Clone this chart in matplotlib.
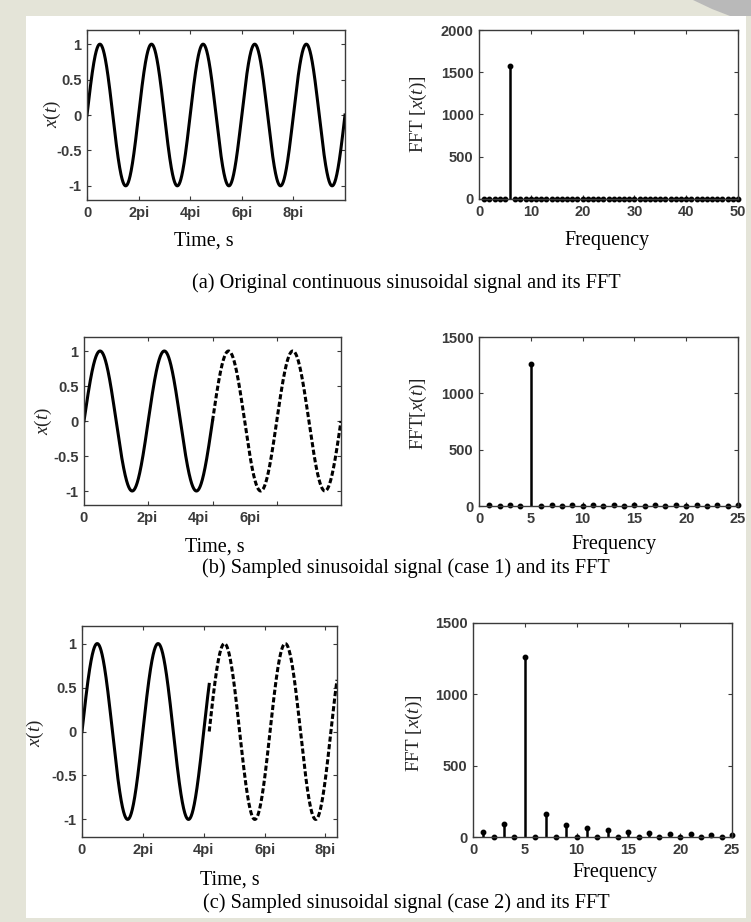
import numpy as np
import matplotlib
matplotlib.use('Agg')
import matplotlib.pyplot as plt
from matplotlib.patches import Rectangle, Polygon

plt.rcParams['mathtext.fontset'] = 'custom'
plt.rcParams['mathtext.rm'] = 'Liberation Serif'
plt.rcParams['mathtext.it'] = 'Liberation Serif:italic'

# ─── Data ────────────────────────────────────────────────────────────────────
PI = np.pi
# time signals: x(t) = sin(t) (solid), continued as dashed part
t_end_a = 10 * PI           # (a) original continuous signal
t_end_b = 8 * PI            # (b) sampled, case 1
t_split_b = 4 * PI          # solid -> dashed
t_end_c = 8.38 * PI         # (c) sampled, case 2
t_split_c = 4.18 * PI       # discontinuity where dashed part restarts at 0

ticks_a = [0, 2 * PI, 4 * PI, 6 * PI, 8 * PI]
ticks_b = [2 * PI, 4 * PI, 6 * PI]                 # tick marks
ticklabpos_b = [0, 1.96 * PI, 3.55 * PI, 5.17 * PI]  # where the labels sit
ticks_c = [0, 2 * PI, 4 * PI, 6 * PI, 8 * PI]
pi_labels_a = ['0', '2pi', '4pi', '6pi', '8pi']
pi_labels_b = ['0', '2pi', '4pi', '6pi']
pi_labels_c = ['0', '2pi', '4pi', '6pi', '8pi']
x_ticks = [1, 0.5, 0, -0.5, -1]
x_ticklabels = ['1', '0.5', '0', '-0.5', '-1']

freq_a = list(range(1, 51))
fft_a = [3, 3, 3, 3, 3, 1571, 3, 3, 3, 3,
         3, 3, 3, 3, 3, 3, 3, 3, 3, 3,
         3, 3, 3, 3, 3, 3, 3, 3, 3, 3,
         3, 3, 3, 3, 3, 3, 3, 3, 3, 3,
         3, 3, 3, 3, 3, 3, 3, 3, 3, 3]

freq_b = list(range(1, 26))
fft_b = [5, 1, 5, 1, 1257, 1, 5, 1, 5, 1,
         5, 1, 5, 1, 5, 1, 5, 1, 5, 1,
         5, 1, 5, 1, 5]

freq_c = list(range(1, 26))
fft_c = [37, 3, 89, 3, 1265, 3, 161, 3, 84, 3,
         65, 3, 49, 3, 37, 3, 26, 3, 21, 3,
         21, 3, 14, 3, 14]

captions = ['(a) Original continuous sinusoidal signal and its FFT',
            '(b) Sampled sinusoidal signal (case 1) and its FFT',
            '(c) Sampled sinusoidal signal (case 2) and its FFT']

# ─── Canvas ──────────────────────────────────────────────────────────────────
W, H = 751, 922
fig = plt.figure(figsize=(W / 100, H / 100), dpi=100)
fig.patch.set_facecolor('#E4E4D8')

def box(l, t, r, b):
    return [l / W, 1 - b / H, (r - l) / W, (b - t) / H]

def ftext(x, y, s, **kw):
    fig.text(x / W, 1 - y / H, s, ha='center', va='center', **kw)

fig.patches.append(Rectangle((26 / W, 1 - 918 / H), 720 / W, 902 / H,
                             transform=fig.transFigure, facecolor='white',
                             edgecolor='none', zorder=-10))
fig.patches.append(Polygon([(693 / W, 1), (1, 1), (1, 1 - 16 / H),
                            (730 / W, 1 - 16 / H), (712 / W, 1 - 9 / H)],
                           closed=True, transform=fig.transFigure,
                           facecolor='#B9B9B9', edgecolor='none', zorder=-10))

TICK_C = '#3A3A3A'
SERIF = 'Liberation Serif'
SANS = 'Liberation Sans'
LW = 2.2
DASH = (0, (1.7, 0.8))

def style(ax):
    for s in ax.spines.values():
        s.set_linewidth(1.0)
        s.set_color('#3A3A3A')
    ax.tick_params(direction='in', top=True, right=True, length=3, width=0.8,
                   color='#3A3A3A', labelcolor=TICK_C, labelsize=10.5, pad=4)
    for lab in ax.get_xticklabels() + ax.get_yticklabels():
        lab.set_fontfamily(SANS)
        lab.set_fontweight('bold')

def time_axes(ax, xmax):
    ax.set_ylim(-1.2, 1.2)
    ax.set_xlim(0, xmax)
    ax.set_yticks(x_ticks)
    ax.set_yticklabels(x_ticklabels)

def fft_axes(ax, freq, vals, xmax, ymax, yticks):
    ml, sl, bl = ax.stem(freq, vals, linefmt='k-', markerfmt='ko', basefmt=' ')
    sl.set_linewidth(1.8)
    ml.set_markersize(3.2)
    ml.set_clip_on(False)
    ax.set_xlim(0, xmax)
    ax.set_ylim(0, ymax)
    ax.set_yticks(yticks)

# ─── (a) ─────────────────────────────────────────────────────────────────────
ax = fig.add_axes(box(87, 30, 345, 200))
t = np.linspace(0, t_end_a, 2000)
ax.plot(t, np.sin(t), color='black', lw=LW)
time_axes(ax, t_end_a)
ax.set_xticks(ticks_a)
ax.set_xticklabels(pi_labels_a)
style(ax)

ax = fig.add_axes(box(479, 30, 738, 199))
fft_axes(ax, freq_a, fft_a, 50, 2000, [0, 500, 1000, 1500, 2000])
ax.set_xticks([0, 10, 20, 30, 40, 50])
style(ax)

# ─── (b) ─────────────────────────────────────────────────────────────────────
ax = fig.add_axes(box(84, 337, 341, 505))
t1 = np.linspace(0, t_split_b, 1000)
t2 = np.linspace(t_split_b, t_end_b, 1000)
ax.plot(t1, np.sin(t1), color='black', lw=LW)
ax.plot(t2, np.sin(t2), color='black', lw=LW, linestyle=DASH)
time_axes(ax, t_end_b)
ax.set_xticks(ticklabpos_b)
ax.set_xticklabels(pi_labels_b)
ax.set_xticks(ticks_b, minor=True)
style(ax)
ax.tick_params(axis='x', which='major', length=0)
ax.tick_params(axis='x', which='minor', direction='in', top=True, length=3,
               width=0.8, color='#3A3A3A')

ax = fig.add_axes(box(479, 337, 738, 506))
fft_axes(ax, freq_b, fft_b, 25, 1500, [0, 500, 1000, 1500])
ax.set_xticks([0, 5, 10, 15, 20, 25])
style(ax)

# ─── (c) ─────────────────────────────────────────────────────────────────────
ax = fig.add_axes(box(82, 626, 337, 837))
t1 = np.linspace(0, t_split_c, 1000)
t2 = np.linspace(t_split_c, t_end_c, 1000)
ax.plot(t1, np.sin(t1), color='black', lw=LW)
ax.plot(t2, np.sin(t2 - t_split_c), color='black', lw=LW, linestyle=DASH)
time_axes(ax, t_end_c)
ax.set_xticks(ticks_c)
ax.set_xticklabels(pi_labels_c)
style(ax)

ax = fig.add_axes(box(473, 623, 732, 837))
fft_axes(ax, freq_c, fft_c, 25, 1500, [0, 500, 1000, 1500])
ax.set_xticks([0, 5, 10, 15, 20, 25])
style(ax)

# ─── Labels & captions ───────────────────────────────────────────────────────
LAB = dict(family=SERIF, fontsize=14.5, color='black')
ftext(204, 241, 'Time, s', **LAB)
ftext(607, 241, 'Frequency', **LAB)
ftext(215, 547, 'Time, s', **LAB)
ftext(614, 544, 'Frequency', **LAB)
ftext(230, 880, 'Time, s', **LAB)
ftext(615, 873, 'Frequency', **LAB)

YL = dict(family=SERIF, fontsize=13.8, color='#222222', rotation=90)
ftext(52, 114, r'$x$($t$)', **YL)
ftext(418, 114, r'FFT [$x$($t$)]', **YL)
ftext(43, 421, r'$x$($t$)', **YL)
ftext(418, 414, r'FFT[$x$($t$)]', **YL)
ftext(35, 733, r'$x$($t$)', **YL)
ftext(414, 733, r'FFT [$x$($t$)]', **YL)

CAP = dict(family=SERIF, fontsize=14.6, color='black')
ftext(406, 283, captions[0], **CAP)
ftext(406, 568, captions[1], **CAP)
ftext(406, 903, captions[2], **CAP)

fig.savefig('out.png', dpi=100, facecolor=fig.get_facecolor())
